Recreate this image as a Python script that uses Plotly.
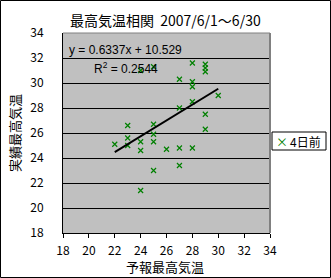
import plotly.graph_objects as go

# Data
forecast = [25, 24, 27, 23, 25, 27, 28, 29, 29, 29, 28, 28, 30, 28, 29, 29,
            22, 23, 23, 24, 24, 25, 25, 26, 27, 27, 25, 24, 28]
actual = [31.3, 31.0, 30.3, 26.6, 26.7, 28.0, 31.6, 31.5, 31.2, 30.9, 30.1, 29.7,
          29.0, 28.5, 27.5, 26.3, 25.1, 25.6, 25.0, 25.3, 24.6, 25.9, 25.3, 24.7,
          24.8, 23.4, 23.0, 21.4, 24.8]
series_name = "4日前"
slope = 0.6337
intercept = 10.529
r_squared = 0.2544
title_text = "最高気温相関  2007/6/1～6/30"
x_title = "予報最高気温"
y_title = "実績最高気温"
tick_vals = [18, 20, 22, 24, 26, 28, 30, 32, 34]

W, H = 331, 278
L, R, T, B = 63, 61, 33, 45
PW, PH = W - L - R, H - T - B


def px(xp):
    return (xp - L) / PW


def py(yp):
    return (H - B - yp) / PH


FONT = "Noto Sans CJK JP"
green = "#008000"

fig = go.Figure()
fig.add_trace(go.Scatter(
    x=forecast, y=actual, mode="markers", name=series_name,
    marker=dict(symbol="x-thin", size=5, color=green,
                line=dict(color=green, width=1.2)),
    showlegend=False))

x0, x1 = min(forecast), max(forecast)
fig.add_trace(go.Scatter(
    x=[x0, x1], y=[slope * x0 + intercept, slope * x1 + intercept],
    mode="lines", line=dict(color="black", width=2), showlegend=False))

fig.update_layout(
    width=W, height=H,
    margin=dict(l=L, r=R, t=T, b=B),
    paper_bgcolor="white", plot_bgcolor="#C0C0C0",
    font=dict(family=FONT, size=12, color="black"),
    xaxis=dict(range=[18, 34], tickvals=tick_vals, showgrid=False, zeroline=False,
               showline=True, linecolor="black", linewidth=1,
               ticks="outside", ticklen=4, tickcolor="black",
               ticklabelstandoff=3, tickfont=dict(size=12, family=FONT)),
    yaxis=dict(range=[18, 34], tickvals=tick_vals, showgrid=True, gridcolor="black",
               gridwidth=1, zeroline=False, showline=True, linecolor="black",
               linewidth=1, ticks="", ticklabelstandoff=16,
               tickfont=dict(size=12, family=FONT)),
)

shapes = [
    # outer chart border
    dict(type="rect", xref="paper", yref="paper",
         x0=px(0.5), x1=px(W - 0.5), y0=py(0.5), y1=py(H - 0.5),
         line=dict(color="black", width=1), layer="below"),
    # plot area top/right border
    dict(type="line", xref="paper", yref="paper", x0=0, x1=1, y0=1, y1=1,
         line=dict(color="#808080", width=1), layer="above"),
    dict(type="line", xref="paper", yref="paper", x0=1, x1=1, y0=0, y1=1,
         line=dict(color="#808080", width=2), layer="above"),
    # legend box
    dict(type="rect", xref="paper", yref="paper",
         x0=px(272), x1=px(326), y0=py(132), y1=py(150),
         line=dict(color="black", width=1), fillcolor="white", layer="above"),
]
fig.update_layout(shapes=shapes)

ann = [
    dict(text=title_text, x=px(165), y=py(20), font=dict(size=14)),
    dict(text=x_title, x=px(165), y=py(266), font=dict(size=13)),
    dict(text=y_title, x=px(14), y=py(133), textangle=-90, font=dict(size=13)),
    dict(text=f"y = {slope}x + {intercept}", x=px(67), y=py(50), xanchor="left",
         font=dict(size=12, family="Liberation Sans")),
    dict(text=f"R<sup>2</sup> = {r_squared}", x=px(92), y=py(68), xanchor="left",
         font=dict(size=12, family="Liberation Sans")),
    dict(text="×", x=px(282), y=py(141), font=dict(size=12, color=green)),
    dict(text=series_name, x=px(288), y=py(141), xanchor="left",
         font=dict(size=12)),
]
for a in ann:
    a.setdefault("xanchor", "center")
    a.update(xref="paper", yref="paper", showarrow=False, yanchor="middle")
fig.update_layout(annotations=ann)

fig.write_html("out.html")
